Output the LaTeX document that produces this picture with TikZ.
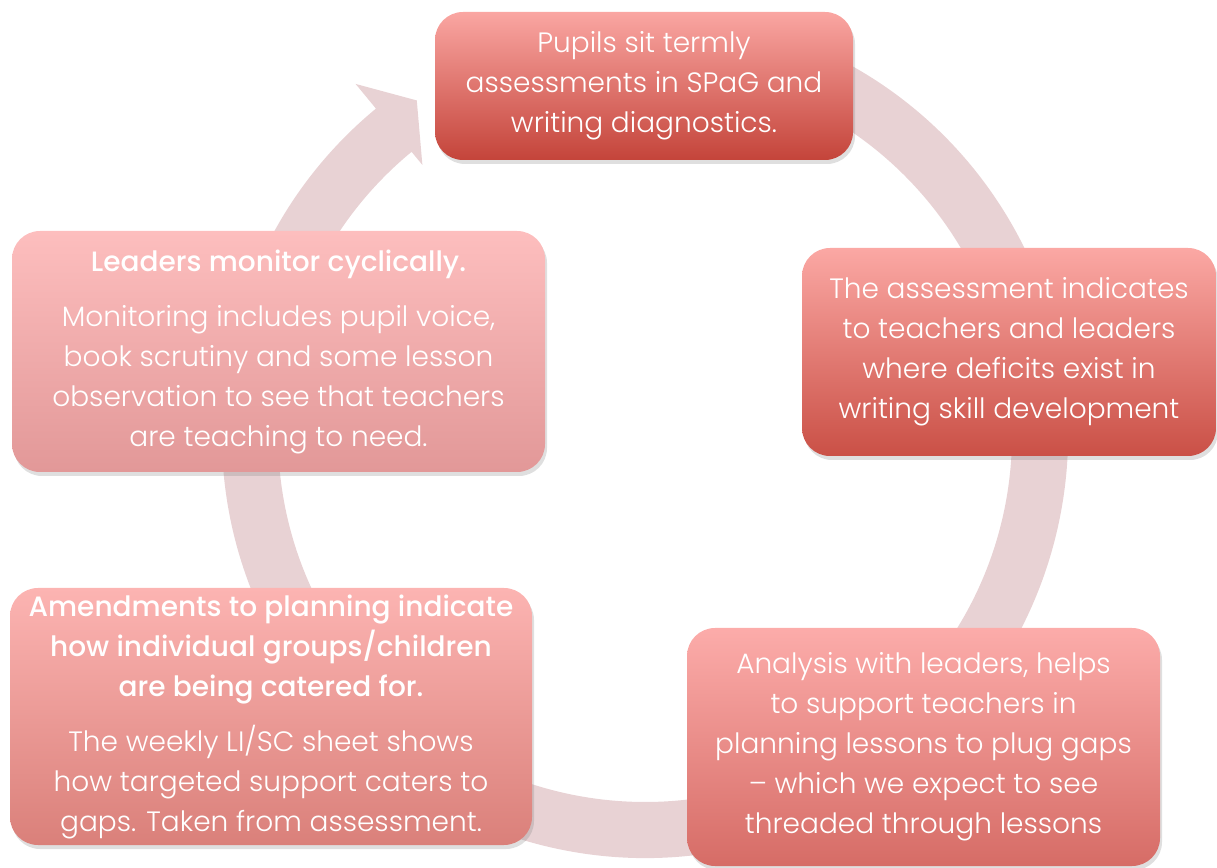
\documentclass[tikz,border=0pt]{standalone}
\usepackage{fontspec}
\setmainfont{Poppins}[UprightFont=* Light, BoldFont=* Medium]
\usetikzlibrary{shadows}
\definecolor{ringc}{RGB}{232,210,212}
\definecolor{aTop}{RGB}{250,166,162}
\definecolor{aMid}{RGB}{238,136,130}
\definecolor{aBot}{RGB}{196,68,58}
\definecolor{bTop}{RGB}{251,168,164}
\definecolor{bMid}{RGB}{240,140,134}
\definecolor{bBot}{RGB}{202,80,70}
\definecolor{cTop}{RGB}{252,172,170}
\definecolor{cMid}{RGB}{242,150,146}
\definecolor{cBot}{RGB}{214,108,102}
\definecolor{dTop}{RGB}{252,180,178}
\definecolor{dMid}{RGB}{244,160,156}
\definecolor{dBot}{RGB}{218,128,122}
\definecolor{eTop}{RGB}{253,190,190}
\definecolor{eMid}{RGB}{244,175,175}
\definecolor{eBot}{RGB}{226,152,152}
\begin{document}
\begin{tikzpicture}[x=1pt,y=1pt,
  box/.style={rectangle, rounded corners=28pt, draw=none,
    drop shadow={opacity=0.25, shadow xshift=2pt, shadow yshift=-4pt},
    text=white, align=center, inner sep=0pt,
    font=\fontsize{28}{40}\selectfont},
  ring/.style={fill=ringc, draw=none}]
\useasboundingbox (0,0) rectangle (1217,867);

% circular arrow
\begin{scope}[shift={(645,432)}]
\fill[ring] (129.5:367) arc[start angle=129.5, end angle=435, radius=367]
  -- (435:423) arc[start angle=435, end angle=129.5, radius=423]
  -- (129.5:455) -- (124.3:405) -- (129.5:350) -- cycle;
\end{scope}

\node[box, minimum width=418pt, minimum height=148pt,
  top color=aTop, middle color=aMid, bottom color=aBot] (n1) at (644,781)
  {Pupils sit termly\\assessments in SPaG and\\writing diagnostics.};

\node[box, minimum width=414pt, minimum height=208pt,
  top color=bTop, middle color=bMid, bottom color=bBot] (n2) at (1009,515)
  {The assessment indicates\\to teachers and leaders\\where deficits exist in\\writing skill development};

\node[box, minimum width=473pt, minimum height=238pt,
  top color=cTop, middle color=cMid, bottom color=cBot] (n3) at (923.5,120)
  {Analysis with leaders, helps\\to support teachers in\\planning lessons to plug gaps\\-- which we expect to see\\threaded through lessons};

\node[box, minimum width=522pt, minimum height=257pt,
  top color=dTop, middle color=dMid, bottom color=dBot] (n4) at (271,150.5)
  {\textbf{Amendments to planning indicate}\\\textbf{how individual groups/children}\\\textbf{are being catered for.}\\[15pt]The weekly LI/SC sheet shows\\how targeted support caters to\\gaps. Taken from assessment.};

\node[box, minimum width=533pt, minimum height=241pt,
  top color=eTop, middle color=eMid, bottom color=eBot] (n5) at (278.5,515.5)
  {\textbf{Leaders monitor cyclically.}\\[15pt]Monitoring includes pupil voice,\\book scrutiny and some lesson\\observation to see that teachers\\are teaching to need.};
\end{tikzpicture}
\end{document}
